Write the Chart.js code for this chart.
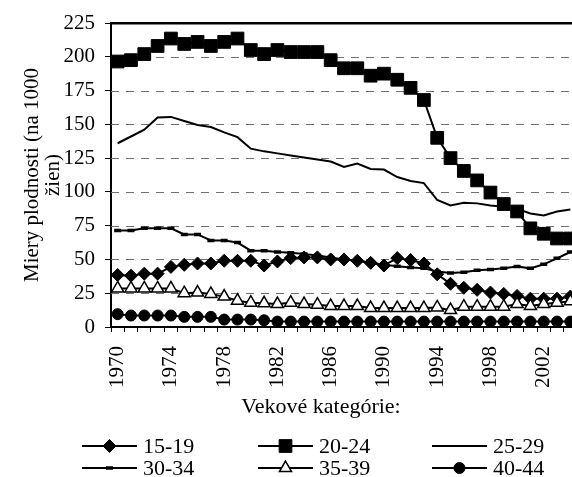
<!DOCTYPE html>
<html><head><meta charset="utf-8">
<script src="https://cdn.jsdelivr.net/npm/chart.js@4"></script>
<style>
html,body{margin:0;padding:0;overflow:hidden;background:#fff;width:572px;height:477px}
#c{position:absolute;left:0;top:0;width:592px;height:477px}
</style>
</head><body><canvas id="c" width="592" height="477"></canvas>
<script>
const years = ['1970','1971','1972','1973','1974','1975','1976','1977','1978','1979',
  '1980','1981','1982','1983','1984','1985','1986','1987','1988','1989',
  '1990','1991','1992','1993','1994','1995','1996','1997','1998','1999',
  '2000','2001','2002','2003','2004'];
const tickYears = ['1970','1974','1978','1982','1986','1990','1994','1998','2002'];
const yMin = 0, yMax = 225, yStep = 25;
const seriesNames = ['15-19','20-24','25-29','30-34','35-39','40-44'];
const s15_19 = [38.5,38,39.5,39.5,44.5,46,47,47,49,49,49,45.5,48.5,51,51.5,51.5,50,50,49,47.5,45.5,51,49.5,47,39,32,29,27.5,25.5,24.5,23,21,21,21,22.5];
const s20_24 = [196.5,197.5,202,208,213.5,209.5,211,208,211,213.5,205,202,205,203.5,203.5,203.5,197.5,191.5,191.5,186,187.5,183,177,168,140,125,115.5,108.5,99.5,91,85.5,73,69,65.5,65.5];
const s25_29 = [136,141,146,155,155.5,152.5,149.5,148,144,140.5,132,130,128.5,127,125.5,124,122.5,118.5,121,117,116.5,111,108,106.5,94,90,92,91.5,90,89,87.5,84,82.5,85.5,87];
const s30_34 = [71.5,71.5,73,73,73,68.5,68.5,64,64,62.5,56.5,56.5,55.5,55,54,53,51.5,50,49,47.5,46,45,44,43.5,41,40,40.5,42,42.5,43.5,44.8,43.4,46.4,50.8,55.5];
const s35_39 = [28.5,28.5,28.5,28.5,28.5,25,25.5,24.5,22.5,19.5,18,17.5,17,18,17,16.5,15.5,15.5,15.5,14,14,14,14,14,14.5,12.5,15,15,15,15,17,15.5,17,18,19];
const s40_44 = [9.5,8.5,8.5,8.5,8.5,7.5,7.5,7.5,5.5,5.5,5.5,5,4,4,4,4,4,4,4,4,4,4,4,4,4,4,4,4,4,4,4,4,4,4,4];
const xTitle = 'Vekové kategórie:';
const yTitle = ['Miery plodnosti (na 1000', 'žien)'];

const FONT = '"Liberation Serif", "Times New Roman", serif';
const FS = 21;
const FS2 = 22;

function ds(i, data, style) {
  return Object.assign({
    label: seriesNames[i], data: data,
    borderColor: '#000', borderWidth: 2, tension: 0,
    pointBackgroundColor: '#000', pointBorderColor: '#000', pointBorderWidth: 1,
    order: 5 - i
  }, style);
}

function drawMarker(ctx, d, x, y) {
  if (!d.pointRadius) return;
  ctx.fillStyle = d.pointBackgroundColor;
  ctx.strokeStyle = d.pointBorderColor;
  ctx.lineWidth = d.pointBorderWidth;
  if (Chart.helpers && Chart.helpers.drawPoint) {
    Chart.helpers.drawPoint(ctx, {pointStyle: d.pointStyle, radius: d.pointRadius, rotation: 0, borderWidth: d.pointBorderWidth}, x, y);
  }
}

const extras = {
  id: 'extras',
  beforeDatasetsDraw(chart) {
    const ctx = chart.ctx, ys = chart.scales.y, xs = chart.scales.x;
    const L = xs.left, R = xs.right;
    ctx.save();
    ctx.lineWidth = 1; ctx.strokeStyle = '#707070'; ctx.setLineDash([8, 7]);
    ys.ticks.forEach(t => {
      if (t.value === yMin || t.value === yMax) return;
      const y = Math.round(ys.getPixelForValue(t.value)) + 0.5;
      ctx.beginPath(); ctx.moveTo(L, y); ctx.lineTo(R, y); ctx.stroke();
    });
    ctx.restore();
  },
  afterDraw(chart) {
    const ctx = chart.ctx, ys = chart.scales.y, xs = chart.scales.x;
    ctx.save();
    ctx.setLineDash([]);
    ctx.fillStyle = '#000';
    ctx.font = FS2 + 'px ' + FONT;
    ctx.textAlign = 'center'; ctx.textBaseline = 'middle';
    ctx.fillText(xTitle, 321, 407);
    const yTop = ys.getPixelForValue(yMax);
    ctx.fillRect(xs.left, yTop - 1, xs.right - xs.left, 2.5);
    const cols = [82, 258, 432], rows = [446, 468], len = 55;
    chart.data.datasets.forEach((d, i) => {
      const x0 = cols[i % 3], y = rows[Math.floor(i / 3)];
      ctx.save();
      ctx.strokeStyle = '#000'; ctx.lineWidth = 2; ctx.setLineDash([]);
      ctx.beginPath(); ctx.moveTo(x0, y); ctx.lineTo(x0 + len, y); ctx.stroke();
      drawMarker(ctx, d, x0 + len / 2, y);
      ctx.fillStyle = '#000';
      ctx.font = FS2 + 'px ' + FONT;
      ctx.textAlign = 'left'; ctx.textBaseline = 'middle';
      ctx.fillText(d.label, x0 + len + 6, y + 1);
      ctx.restore();
    });
    ctx.restore();
  }
};

new Chart(document.getElementById('c'), {
  type: 'line',
  data: {
    labels: years,
    datasets: [
      ds(0, s15_19, {pointStyle: 'rectRot', pointRadius: 6.5}),
      ds(1, s20_24, {pointStyle: 'rect', pointRadius: 9}),
      ds(2, s25_29, {pointRadius: 0}),
      ds(3, s30_34, {pointStyle: 'line', pointRadius: 3.5, pointBorderWidth: 3.5}),
      ds(4, s35_39, {pointStyle: 'triangle', pointRadius: 7, pointBackgroundColor: '#fff', pointBorderWidth: 1.5}),
      ds(5, s40_44, {pointStyle: 'circle', pointRadius: 5.5})
    ]
  },
  options: {
    responsive: false, animation: false, events: [],
    layout: {padding: {top: 23, right: 15, bottom: 90, left: 0}},
    plugins: {legend: {display: false}, tooltip: {enabled: false}, title: {display: false}},
    scales: {
      x: {
        offset: true,
        grid: {display: true, offset: true, drawOnChartArea: false, drawTicks: true, tickLength: 5, tickColor: '#000', tickWidth: 1},
        border: {display: true, color: '#000', width: 2},
        ticks: {
          autoSkip: false, maxRotation: 90, minRotation: 90, padding: 14, color: '#000',
          font: {family: FONT, size: FS},
          callback: function (v) { const l = this.getLabelForValue(v); return tickYears.includes(l) ? l : ''; }
        },
        afterFit: s => { s.height = 60; s.paddingLeft = 0; s.paddingRight = 0; }
      },
      y: {
        min: yMin, max: yMax,
        grid: {drawOnChartArea: false, drawTicks: true, tickLength: 6, tickWidth: 1, tickColor: '#000'},
        border: {display: true, color: '#000', width: 2},
        ticks: {stepSize: yStep, padding: 10, color: '#000', font: {family: FONT, size: FS}},
        title: {display: true, text: yTitle, color: '#000', font: {family: FONT, size: FS, lineHeight: 1}, padding: {top: 21.5, bottom: 0}},
        afterFit: s => { s.width = 111; }
      }
    }
  },
  plugins: [extras]
});
</script>
</body></html>
